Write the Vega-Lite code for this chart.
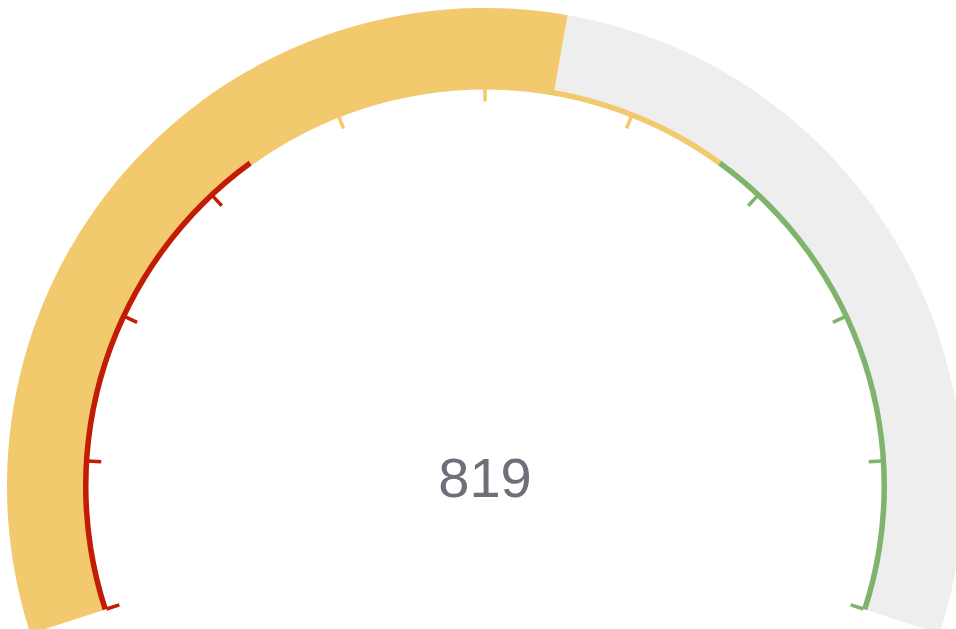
{
  "$schema": "https://vega.github.io/schema/vega-lite/v6.json",
  "autosize": {"type": "none"},
  "width": 942,
  "height": 972,
  "padding": {"left": 14, "right": 0, "top": 0, "bottom": -343},
  "background": "white",
  "config": {"view": {"stroke": null}},
  "datasets": {
    "band": [
      {"start": 0, "end": 1500, "part": "track"},
      {"start": 0, "end": 819, "part": "progress"}
    ],
    "line": [
      {"from": 0, "to": 500, "seg": "low"},
      {"from": 500, "to": 1000, "seg": "mid"},
      {"from": 1000, "to": 1500, "seg": "high"}
    ],
    "ticks": [
      {"v": 0, "seg": "low"},
      {"v": 150, "seg": "low"},
      {"v": 300, "seg": "low"},
      {"v": 450, "seg": "low"},
      {"v": 600, "seg": "mid"},
      {"v": 750, "seg": "mid"},
      {"v": 900, "seg": "mid"},
      {"v": 1050, "seg": "high"},
      {"v": 1200, "seg": "high"},
      {"v": 1350, "seg": "high"},
      {"v": 1500, "seg": "high"}
    ],
    "value": [{"value": 819}]
  },
  "layer": [
    {
      "data": {"name": "band"},
      "mark": {"type": "arc", "radius": 478, "radius2": 401},
      "encoding": {
        "theta": {"field": "start", "type": "quantitative", "stack": null, "scale": {"domain": [0, 1500], "range": [-1.885, 1.885]}},
        "theta2": {"field": "end"},
        "color": {"field": "part", "type": "nominal", "scale": {"domain": ["track", "progress"], "range": ["#EEEEEE", "#F2C96D"]}, "legend": null}
      }
    },
    {
      "data": {"name": "line"},
      "mark": {"type": "arc", "radius": 402, "radius2": 396.5},
      "encoding": {
        "theta": {"field": "from", "type": "quantitative", "stack": null, "scale": {"domain": [0, 1500], "range": [-1.885, 1.885]}},
        "theta2": {"field": "to"},
        "fill": {"field": "seg", "type": "nominal", "scale": {"domain": ["low", "mid", "high"], "range": ["#C21C05", "#F2C96D", "#7EB46C"]}, "legend": null}
      }
    },
    {
      "data": {"name": "ticks"},
      "mark": {"type": "arc", "radius": 398, "radius2": 384.5, "strokeWidth": 3.5, "filled": false},
      "encoding": {
        "theta": {"field": "v", "type": "quantitative", "stack": null, "scale": {"domain": [0, 1500], "range": [-1.885, 1.885]}},
        "theta2": {"field": "v"},
        "stroke": {"field": "seg", "type": "nominal", "scale": {"domain": ["low", "mid", "high"], "range": ["#C21C05", "#F2C96D", "#7EB46C"]}, "legend": null}
      }
    },
    {
      "data": {"name": "value"},
      "mark": {"type": "text", "font": "Liberation Sans", "fontSize": 56, "color": "#6E7079", "baseline": "alphabetic", "align": "center", "dy": 11},
      "encoding": {
        "text": {"field": "value", "type": "quantitative"}
      }
    }
  ]
}
